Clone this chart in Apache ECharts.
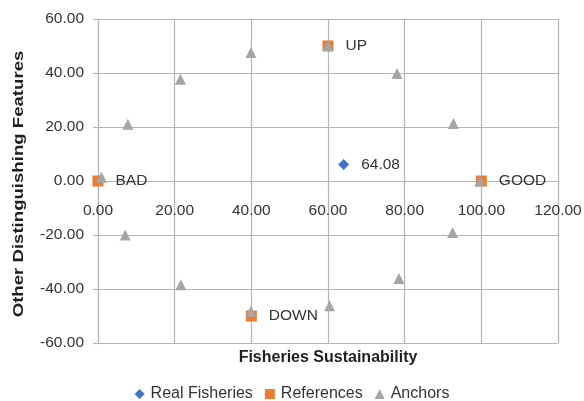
<!DOCTYPE html>
<html>
<head>
<meta charset="utf-8">
<script src="https://cdn.jsdelivr.net/npm/echarts@6/dist/echarts.min.js"></script>
<style>
  html, body { margin: 0; padding: 0; background: #fff; }
  #chart { width: 584px; height: 401px; }
</style>
</head>
<body>
<div id="chart"></div>
<script>
// Ordination of the fishery against its reference and anchor points
const xTitle = 'Fisheries Sustainability';
const yTitle = 'Other Distinguishing Features';
const seriesNames = ['Real Fisheries', 'References', 'Anchors'];

const realFisheries = [[64.08, 6.1]];

const referenceNames = ['BAD', 'GOOD', 'UP', 'DOWN'];
const referenceX = [0, 100, 60, 40];
const referenceY = [0, 0, 50, -50];

const anchorX = [0.9, 7.8, 21.5, 39.9, 60.0, 78.0, 92.7, 99.6, 92.5, 78.5, 60.4, 39.9, 21.6, 7.1];
const anchorY = [1.4, 21.0, 37.7, 47.6, 50.2, 39.8, 21.3, 0.0, -19.1, -36.1, -46.2, -48.2, -38.4, -20.0];

const xMin = 0, xMax = 120, xStep = 20;
const yMin = -60, yMax = 60, yStep = 20;

const FONT = 'Liberation Sans';
const TEXT = '#333333';
const TITLE = '#1f1f1f';
const GRID = '#b5b5b5';

const GRID_TOP = 19, GRID_BOTTOM = 58, CHART_H = 401;

const referenceData = referenceNames.map((n, i) => ({ name: n, value: [referenceX[i], referenceY[i]] }));
const anchorData = anchorX.map((x, i) => [x, anchorY[i]]);

// the horizontal axis crosses the vertical one at y = 0
const plotH = CHART_H - GRID_TOP - GRID_BOTTOM;
const xAxisLift = plotH * (0 - yMin) / (yMax - yMin);

const chart = echarts.init(document.getElementById('chart'), null, { renderer: 'canvas' });

const labelRight = {
  show: true,
  position: 'right',
  distance: 12,
  color: TEXT,
  fontFamily: FONT,
  fontSize: 15.5
};

chart.setOption({
  animation: false,
  backgroundColor: '#fff',
  grid: { left: 98, right: 26, top: GRID_TOP, bottom: GRID_BOTTOM, containLabel: false, outerBoundsMode: 'none' },
  xAxis: {
    type: 'value',
    min: xMin, max: xMax, interval: xStep,
    position: 'bottom',
    offset: -xAxisLift,
    axisLine: { show: true, onZero: false, lineStyle: { color: GRID, width: 1.2 } },
    axisTick: { show: true, length: 5, lineStyle: { color: GRID, width: 1.2 } },
    axisLabel: {
      margin: 22, color: TEXT, fontFamily: FONT, fontSize: 15.5,
      formatter: v => v.toFixed(2)
    },
    splitLine: { show: true, lineStyle: { color: GRID, width: 1.2 } },
    name: xTitle,
    nameLocation: 'middle',
    nameGap: 169,
    nameTextStyle: { color: TITLE, fontFamily: FONT, fontSize: 16, fontWeight: 'bold' }
  },
  yAxis: {
    type: 'value',
    min: yMin, max: yMax, interval: yStep,
    axisLine: { show: true, onZero: false, lineStyle: { color: GRID, width: 1.2 } },
    axisTick: { show: true, length: 5, lineStyle: { color: GRID, width: 1.2 } },
    axisLabel: {
      margin: 14, color: TEXT, fontFamily: FONT, fontSize: 15.5,
      formatter: v => v.toFixed(2)
    },
    splitLine: { show: true, lineStyle: { color: GRID, width: 1.2 } }
  },
  graphic: [{
    type: 'text',
    x: 19,
    y: 184,
    rotation: Math.PI / 2,
    scaleX: 1.24,
    style: {
      text: yTitle,
      fill: TITLE,
      font: 'bold 15px "' + FONT + '"',
      align: 'center',
      verticalAlign: 'middle'
    }
  }],
  legend: {
    left: 'center',
    top: 381,
    itemWidth: 10,
    itemHeight: 10,
    itemGap: 12,
    textStyle: { color: TEXT, fontFamily: FONT, fontSize: 16, padding: [0, 0, 0, 1] },
    data: seriesNames
  },
  series: [
    {
      name: seriesNames[0],
      type: 'scatter',
      symbol: 'diamond',
      symbolSize: 11,
      itemStyle: { color: '#4472C4', opacity: 1 },
      label: Object.assign({}, labelRight, { formatter: p => p.value[0].toFixed(2) }),
      data: realFisheries,
      z: 3
    },
    {
      name: seriesNames[1],
      type: 'scatter',
      symbol: 'rect',
      symbolSize: 11,
      itemStyle: { color: '#ED7D31', opacity: 1 },
      label: Object.assign({}, labelRight, { formatter: p => p.name }),
      data: referenceData,
      z: 3
    },
    {
      name: seriesNames[2],
      type: 'scatter',
      symbol: 'triangle',
      symbolSize: 11,
      itemStyle: { color: '#A5A5A5', opacity: 1 },
      data: anchorData,
      z: 4
    }
  ]
});
</script>
</body>
</html>
